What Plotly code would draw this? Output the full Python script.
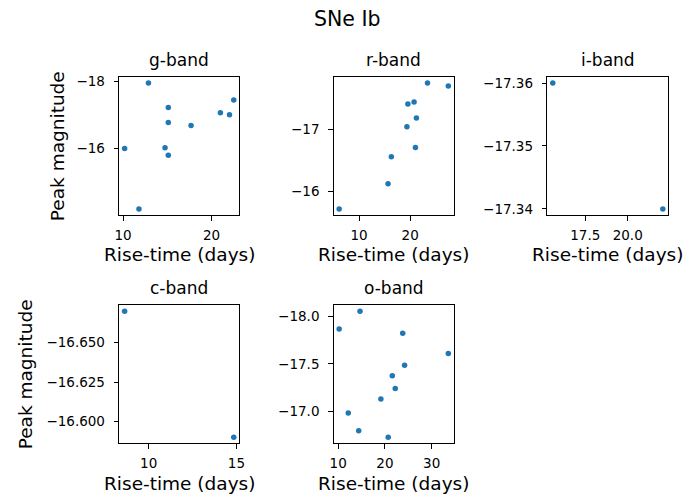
import plotly.graph_objects as go

# Rise-time (days) and peak magnitude for each photometric band
g_rise = [10.18, 11.8, 12.87, 14.74, 15.11, 15.11, 15.11, 17.68, 20.99, 22.02, 22.5]
g_peak = [-16.0, -14.19, -17.96, -16.02, -17.23, -16.78, -15.80, -16.69, -17.07, -17.01, -17.45]

r_rise = [6.11, 15.67, 16.31, 19.36, 19.55, 20.76, 21.21, 21.02, 23.38, 27.45]
r_peak = [-15.71, -16.12, -16.56, -17.05, -17.42, -17.45, -17.19, -16.71, -17.76, -17.71]

i_rise = [15.58, 22.07]
i_peak = [-17.36, -17.34]

c_rise = [8.63, 14.85]
c_peak = [-16.670, -16.590]

o_rise = [10.21, 12.16, 14.67, 14.39, 19.13, 20.70, 21.57, 22.2, 23.8, 24.2, 33.55]
o_peak = [-17.865, -16.986, -18.052, -16.80, -17.132, -16.733, -17.375, -17.243, -17.82, -17.486, -17.608]

# Tick values per panel
g_xticks, g_yticks = [10, 20], [-18, -16]
r_xticks, r_yticks = [10, 20], [-17, -16]
i_xticks, i_yticks = [17.5, 20.0], [-17.36, -17.35, -17.34]
c_xticks, c_yticks = [10, 15], [-16.650, -16.625, -16.600]
o_xticks, o_yticks = [10, 20, 30], [-18.0, -17.5, -17.0]

W, H = 693, 500
FONT = "DejaVu Sans"
BLUE = "#1f77b4"

# name, x, y, xticks, yticks, x decimals, y decimals, pixel box (left, right, top, bottom)
panels = [
    ("g-band", g_rise, g_peak, g_xticks, g_yticks, 0, 0, (116, 238, 74.3, 214)),
    ("r-band", r_rise, r_peak, r_xticks, r_yticks, 0, 0, (334, 456, 74.3, 214)),
    ("i-band", i_rise, i_peak, i_xticks, i_yticks, 1, 2, (551, 674, 74.3, 214)),
    ("c-band", c_rise, c_peak, c_xticks, c_yticks, 0, 3, (116, 238, 304.3, 444)),
    ("o-band", o_rise, o_peak, o_xticks, o_yticks, 0, 1, (334, 456, 304.3, 444)),
]


def padded(vals, frac=0.05):
    lo, hi = min(vals), max(vals)
    span = hi - lo
    return lo - frac * span, hi + frac * span


def labels(vals, decimals):
    # typographic minus sign for negative tick values
    return [f"{v:.{decimals}f}".replace("-", "\u2212") for v in vals]


fig = go.Figure()
annotations = []
layout = {}

for k, (name, xs, ys, xt, yt, xd, yd, box) in enumerate(panels, start=1):
    left, right, top, bottom = box
    xa = "x" if k == 1 else f"x{k}"
    ya = "y" if k == 1 else f"y{k}"
    fig.add_trace(go.Scatter(
        x=xs, y=ys, mode="markers", xaxis=xa, yaxis=ya,
        marker=dict(color=BLUE, size=5.5, line=dict(width=0)),
        showlegend=False, hoverinfo="x+y",
    ))
    xlo, xhi = padded(xs)
    ylo, yhi = padded(ys)
    common = dict(
        showline=True, linecolor="black", linewidth=1, mirror=True,
        ticks="outside", ticklen=4.5, tickwidth=1, tickcolor="black",
        showgrid=False, zeroline=False, tickmode="array",
        tickfont=dict(family=FONT, size=13.5, color="black"),
    )
    layout["xaxis" if k == 1 else f"xaxis{k}"] = dict(
        domain=[left / W, right / W], anchor=ya, range=[xlo, xhi],
        tickvals=xt, ticktext=labels(xt, xd), ticklabelstandoff=3, **common,
    )
    layout["yaxis" if k == 1 else f"yaxis{k}"] = dict(
        domain=[1 - bottom / H, 1 - top / H], anchor=xa, range=[yhi, ylo],
        tickvals=yt, ticktext=labels(yt, yd), ticklabelstandoff=6, **common,
    )
    # panel title
    annotations.append(dict(
        text=name, xref="paper", yref="paper",
        x=(left + right) / 2 / W, y=1 - (top - 17) / H,
        xanchor="center", yanchor="middle", showarrow=False,
        font=dict(family=FONT, size=17, color="black"),
    ))
    # x-axis label
    annotations.append(dict(
        text="Rise-time (days)", xref="paper", yref="paper",
        x=(left + right) / 2 / W, y=1 - (bottom + 40) / H,
        xanchor="center", yanchor="middle", showarrow=False,
        font=dict(family=FONT, size=18.5, color="black"),
    ))

# y-axis labels on the first column
for cx, top, bottom in [(54, 74.3, 214), (20.5, 304.3, 444)]:
    annotations.append(dict(
        text="Peak magnitude", xref="paper", yref="paper",
        x=cx / W, y=1 - (top + bottom) / 2 / H, textangle=-90,
        xanchor="center", yanchor="middle", showarrow=False,
        font=dict(family=FONT, size=18.5, color="black"),
    ))

# figure title
annotations.append(dict(
    text="SNe Ib", xref="paper", yref="paper",
    x=348 / W, y=1 - 16.5 / H, xanchor="center", yanchor="middle",
    showarrow=False, font=dict(family=FONT, size=20.5, color="black"),
))

fig.update_layout(
    width=W, height=H,
    margin=dict(l=0, r=0, t=0, b=0),
    paper_bgcolor="white", plot_bgcolor="white",
    annotations=annotations,
    **layout,
)

fig.write_html("out.html")
